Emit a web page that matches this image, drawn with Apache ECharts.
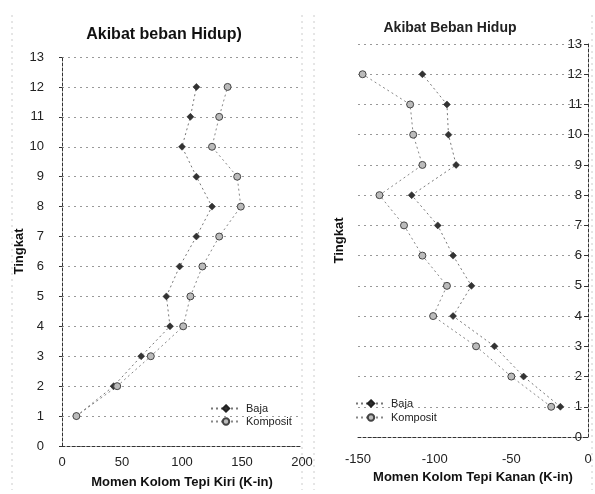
<!DOCTYPE html>
<html>
<head>
<meta charset="utf-8">
<script src="https://cdn.jsdelivr.net/npm/echarts@6/dist/echarts.min.js"></script>
<style>
html,body{margin:0;padding:0;background:#fff;}
#c{width:595px;height:494px;}
</style>
</head>
<body>
<div id="c"></div>
<script>
// Levels (Tingkat)
const levels = [1,2,3,4,5,6,7,8,9,10,11,12];
// Left chart: Momen Kolom Tepi Kiri (K-in)
const leftBaja     = [12, 43, 66, 90, 87, 98, 112, 125, 112, 100, 107, 112];
const leftKomposit = [12, 46, 74, 101, 107, 117, 131, 149, 146, 125, 131, 138];
// Right chart: Momen Kolom Tepi Kanan (K-in)
const rightBaja     = [-18, -42, -61, -88, -76, -88, -98, -115, -86, -91, -92, -108];
const rightKomposit = [-24, -50, -73, -101, -92, -108, -120, -136, -108, -114, -116, -147];
// Tick values
const leftXTicks = [0, 50, 100, 150, 200];
const rightXTicks = [-150, -100, -50, 0];

const pairs = (xs) => xs.map((v, i) => [v, levels[i]]);
const font = 'Liberation Sans, Arial, sans-serif';
const gridLine = {show: true, lineStyle: {color: '#999', type: [2, 4], width: 1}};
const axisLineStyle = {show: true, lineStyle: {color: '#333', type: [3, 2], width: 1}};

const chart = echarts.init(document.getElementById('c'), null, {renderer: 'canvas'});

const bajaStyle = {
  symbol: 'diamond', symbolSize: 7,
  itemStyle: {color: '#333', borderColor: '#222', borderWidth: 0.5},
  lineStyle: {color: '#777', width: 1, type: [2, 3]}
};
const kompStyle = {
  symbol: 'circle', symbolSize: 7,
  itemStyle: {color: '#bbb', borderColor: '#444', borderWidth: 1},
  lineStyle: {color: '#888', width: 1, type: [2, 3]}
};

chart.setOption({
  animation: false,
  backgroundColor: '#fff',
  textStyle: {fontFamily: font},
  title: [
    {text: 'Akibat beban Hidup)', left: 159, top: 22, textAlign: 'center',
     textStyle: {fontSize: 16, fontWeight: 'bold', color: '#111', fontFamily: font}},
    {text: 'Akibat Beban Hidup', left: 445, top: 16, textAlign: 'center',
     textStyle: {fontSize: 14, fontWeight: 'bold', color: '#222', fontFamily: font}}
  ],
  legend: [
    {data: ['Baja', 'Komposit'], left: 205, top: 398, orient: 'vertical', itemGap: 2,
     itemWidth: 30, itemHeight: 8, textStyle: {fontSize: 11, color: '#222', fontFamily: font}},
    {data: ['Baja ', 'Komposit '], left: 350, top: 393, orient: 'vertical', itemGap: 3,
     itemWidth: 30, itemHeight: 8, textStyle: {fontSize: 11, color: '#222', fontFamily: font}}
  ],
  grid: [
    {left: 62, top: 57, width: 240, height: 390},
    {left: 358, top: 44, width: 230, height: 393}
  ],
  xAxis: [
    {gridIndex: 0, type: 'value', min: 0, max: 200, interval: 50,
     name: 'Momen Kolom Tepi Kiri (K-in)', nameLocation: 'middle', nameGap: 30,
     nameTextStyle: {fontSize: 13, fontWeight: 'bold', color: '#111', fontFamily: font},
     axisLine: axisLineStyle, axisTick: {show: false}, splitLine: {show: false},
     axisLabel: {fontSize: 13, color: '#222', margin: 10, fontFamily: font,
       customValues: leftXTicks}},
    {gridIndex: 1, type: 'value', min: -150, max: 0, interval: 50,
     name: 'Momen Kolom Tepi Kanan (K-in)', nameLocation: 'middle', nameGap: 30,
     nameTextStyle: {fontSize: 13, fontWeight: 'bold', color: '#111', fontFamily: font},
     axisLine: axisLineStyle, axisTick: {show: false}, splitLine: {show: false},
     axisLabel: {fontSize: 13, color: '#222', margin: 16, fontFamily: font,
       customValues: rightXTicks}}
  ],
  yAxis: [
    {gridIndex: 0, type: 'value', min: 0, max: 13, interval: 1,
     name: 'Tingkat', nameLocation: 'middle', nameGap: 28, nameRotate: 90,
     nameTextStyle: {fontSize: 13, fontWeight: 'bold', color: '#111', fontFamily: font},
     axisLine: axisLineStyle, axisTick: {show: true, length: 3, lineStyle: {color: '#333'}},
     splitLine: gridLine,
     axisLabel: {fontSize: 13, color: '#222', margin: 18, fontFamily: font}},
    {gridIndex: 1, type: 'value', min: 0, max: 13, interval: 1, position: 'right',
     name: 'Tingkat', nameLocation: 'middle', nameGap: -255, nameRotate: 90,
     nameTextStyle: {fontSize: 13, fontWeight: 'bold', color: '#111', fontFamily: font},
     axisLine: axisLineStyle, axisTick: {show: true, inside: true, length: 4, lineStyle: {color: '#333'}},
     splitLine: gridLine,
     axisLabel: {inside: true, fontSize: 13, color: '#222', margin: 6, fontFamily: font}}
  ],
  graphic: [
    {type: 'line', shape: {x1: 12, y1: 15, x2: 12, y2: 490}, style: {stroke: '#ccc', lineDash: [2, 4]}},
    {type: 'line', shape: {x1: 302, y1: 15, x2: 302, y2: 490}, style: {stroke: '#ccc', lineDash: [2, 4]}},
    {type: 'line', shape: {x1: 314, y1: 15, x2: 314, y2: 490}, style: {stroke: '#ccc', lineDash: [2, 4]}},
    {type: 'line', shape: {x1: 592, y1: 15, x2: 592, y2: 490}, style: {stroke: '#ccc', lineDash: [2, 4]}}
  ],
  series: [
    Object.assign({name: 'Baja', type: 'line', xAxisIndex: 0, yAxisIndex: 0, data: pairs(leftBaja)}, bajaStyle),
    Object.assign({name: 'Komposit', type: 'line', xAxisIndex: 0, yAxisIndex: 0, data: pairs(leftKomposit)}, kompStyle),
    Object.assign({name: 'Baja ', type: 'line', xAxisIndex: 1, yAxisIndex: 1, data: pairs(rightBaja)}, bajaStyle),
    Object.assign({name: 'Komposit ', type: 'line', xAxisIndex: 1, yAxisIndex: 1, data: pairs(rightKomposit)}, kompStyle)
  ]
});
</script>
</body>
</html>
